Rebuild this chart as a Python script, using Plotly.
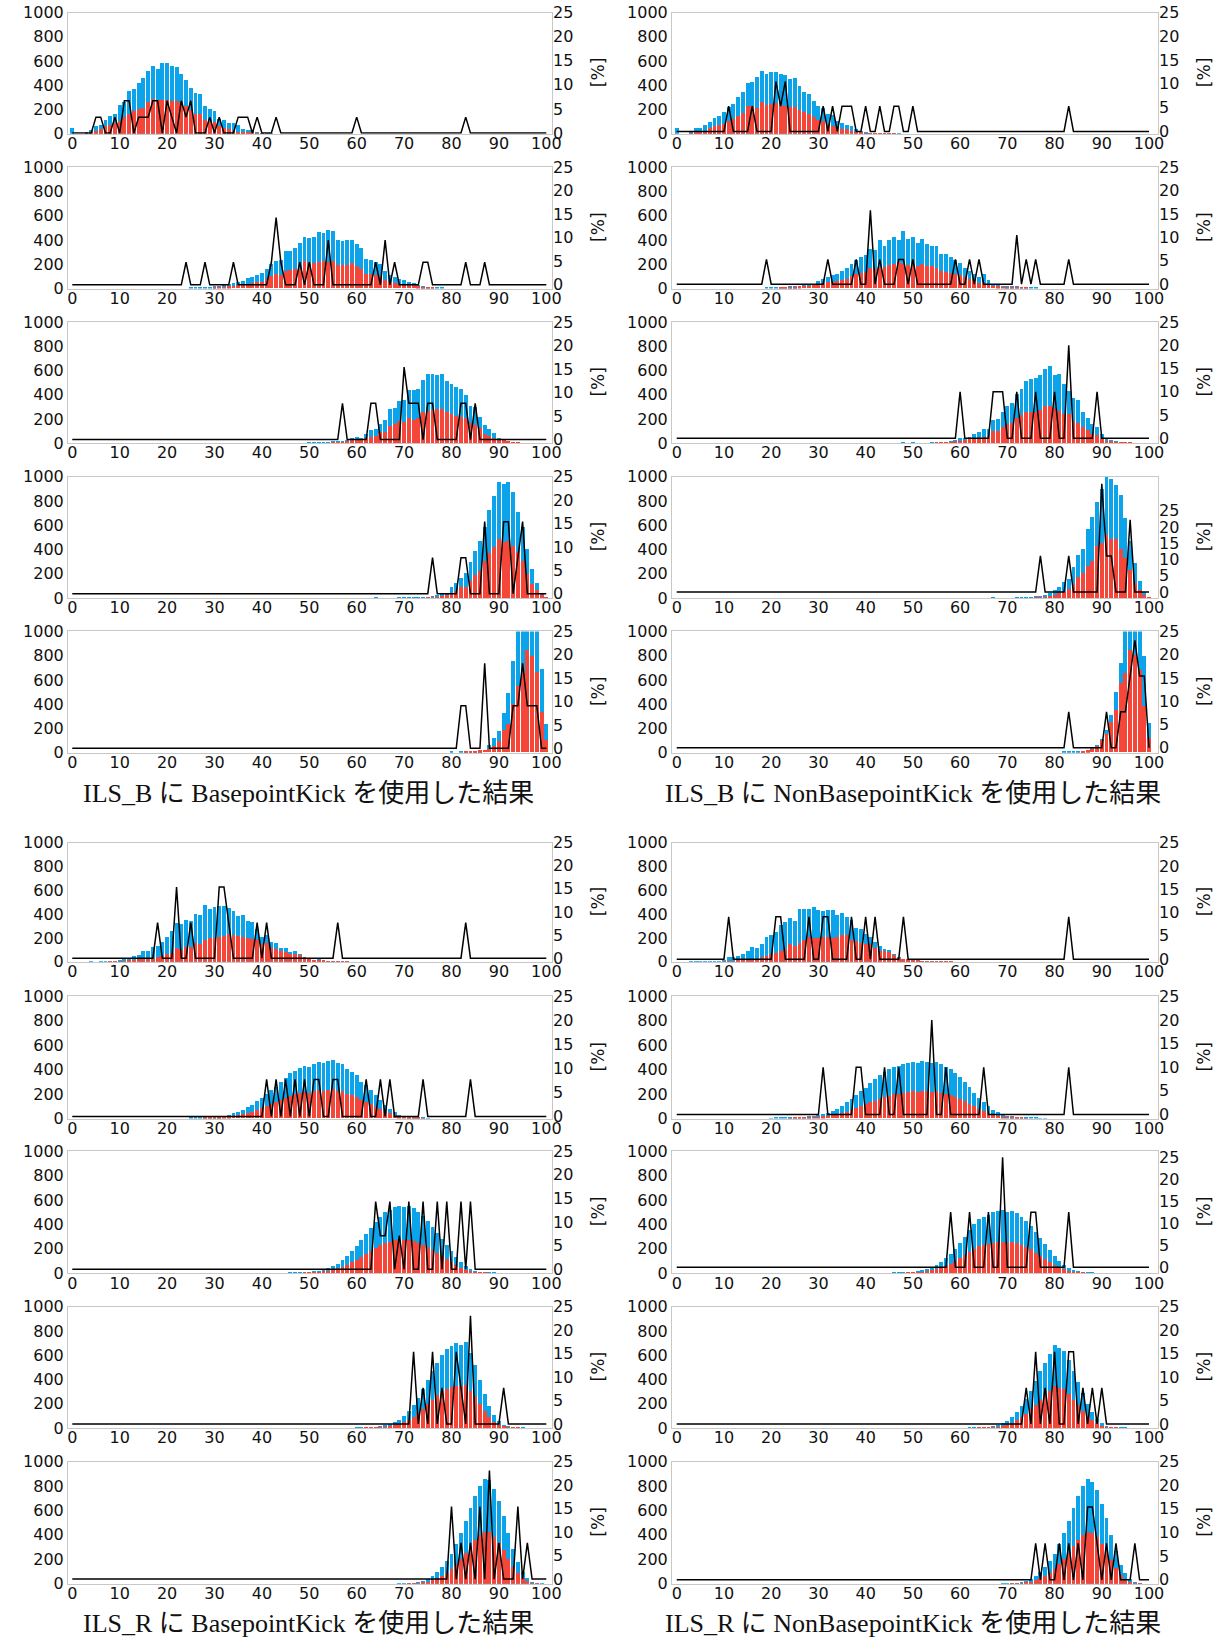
import plotly.graph_objects as go

# ---------------- data (bins 0..100) ----------------
# Group 1: ILS_B, row r, L = BasepointKick, R = NonBasepointKick
g1r1L_start = 0
g1r1L_blue = [50, 0, 0, 20, 35, 65, 80, 120, 150, 170, 240, 270, 360, 370, 420, 465, 525, 560, 535, 585, 590, 565, 555, 500, 450, 380, 340, 330, 235, 205, 195, 130, 120, 90, 90, 75, 45, 35, 35, 15, 10, 5, 3]
g1r1L_red = [0, 0, 0, 5, 15, 30, 40, 65, 75, 90, 110, 140, 170, 190, 210, 215, 270, 295, 280, 285, 280, 275, 275, 260, 230, 200, 170, 170, 120, 105, 100, 70, 50, 45, 30, 20, 20, 20, 15, 10, 5, 0, 0]
g1r1L_pct_x = [5, 6, 9, 11, 12, 14, 15, 16, 17, 18, 20, 21, 23, 24, 25, 29, 31, 35, 36, 37, 39, 43, 60, 83]
g1r1L_pct = [3.3, 3.3, 3.3, 6.7, 6.7, 3.3, 3.3, 3.3, 6.7, 6.7, 6.7, 3.3, 6.7, 3.3, 6.7, 3.3, 3.3, 3.3, 3.3, 3.3, 3.3, 3.3, 3.3, 3.3]

g1r1R_start = 0
g1r1R_blue = [50, 0, 0, 30, 55, 55, 75, 105, 135, 150, 185, 225, 250, 310, 350, 425, 430, 475, 520, 500, 515, 510, 495, 485, 460, 465, 395, 350, 330, 275, 235, 220, 170, 160, 110, 90, 80, 65, 45, 30, 20, 10, 8, 5, 5, 4, 3, 3]
g1r1R_red = [0, 0, 0, 10, 25, 25, 30, 50, 70, 80, 85, 110, 130, 155, 175, 230, 230, 215, 265, 245, 250, 255, 240, 235, 225, 225, 200, 185, 165, 145, 115, 110, 80, 70, 50, 45, 40, 30, 20, 15, 10, 5, 4, 3, 3, 3, 3, 2]
g1r1R_pct_x = [11, 16, 21, 22, 23, 31, 33, 35, 36, 37, 40, 43, 46, 47, 50, 83]
g1r1R_pct = [5.3, 5.3, 10.5, 5.3, 10.5, 5.3, 5.3, 5.3, 5.3, 5.3, 5.3, 5.3, 5.3, 5.3, 5.3, 5.3]

g1r2L_start = 25
g1r2L_blue = [5, 5, 10, 5, 8, 15, 20, 25, 35, 45, 50, 60, 85, 95, 110, 125, 160, 200, 225, 230, 305, 310, 330, 370, 420, 415, 420, 460, 455, 480, 470, 400, 390, 400, 400, 365, 335, 245, 230, 220, 200, 145, 110, 90, 75, 65, 50, 45, 30, 15, 10, 10, 8, 3]
g1r2L_red = [0, 0, 0, 0, 0, 5, 8, 10, 15, 20, 25, 30, 35, 40, 50, 55, 80, 100, 120, 110, 145, 150, 155, 160, 225, 210, 205, 220, 225, 215, 225, 195, 190, 195, 210, 185, 155, 115, 120, 105, 100, 65, 55, 40, 35, 30, 25, 25, 15, 10, 5, 3, 0, 0]
g1r2L_pct_x = [24, 28, 34, 42, 43, 44, 48, 50, 54, 64, 66, 68, 74, 75, 83, 87]
g1r2L_pct = [4.8, 4.8, 4.8, 4.8, 14.3, 4.8, 4.8, 4.8, 9.5, 4.8, 9.5, 4.8, 4.8, 4.8, 4.8, 4.8]

g1r2R_start = 19
g1r2R_blue = [3, 5, 5, 8, 10, 15, 15, 20, 30, 30, 30, 60, 75, 90, 105, 120, 145, 165, 200, 235, 260, 270, 320, 315, 400, 345, 400, 420, 395, 470, 410, 420, 375, 405, 365, 350, 345, 285, 285, 260, 230, 205, 170, 145, 120, 90, 120, 70, 35, 25, 20, 15, 15, 15, 10, 8, 5, 3]
g1r2R_red = [0, 0, 0, 3, 5, 8, 10, 15, 20, 20, 25, 30, 40, 50, 55, 60, 65, 75, 100, 120, 125, 135, 170, 160, 175, 175, 195, 200, 215, 200, 195, 190, 185, 200, 185, 180, 165, 145, 135, 125, 115, 105, 95, 75, 65, 45, 45, 35, 20, 15, 10, 8, 8, 5, 5, 3, 0, 0]
g1r2R_pct_x = [19, 32, 38, 41, 43, 47, 48, 50, 59, 62, 64, 72, 74, 76, 83]
g1r2R_pct = [5.3, 5.3, 5.3, 15.8, 5.3, 5.3, 5.3, 5.3, 5.3, 5.3, 5.3, 10.5, 5.3, 5.3, 5.3]

g1r3L_start = 50
g1r3L_blue = [3, 5, 5, 8, 10, 15, 20, 20, 25, 45, 55, 40, 80, 105, 120, 160, 195, 280, 290, 345, 360, 440, 440, 445, 525, 570, 575, 565, 570, 515, 490, 465, 450, 400, 310, 300, 220, 150, 115, 85, 40, 35, 20, 10, 5]
g1r3L_red = [0, 0, 0, 0, 0, 3, 8, 10, 15, 25, 30, 30, 40, 50, 60, 90, 90, 145, 160, 180, 175, 210, 195, 210, 255, 265, 275, 285, 285, 260, 240, 225, 215, 210, 165, 150, 125, 80, 60, 40, 30, 25, 15, 8, 3]
g1r3L_pct_x = [57, 63, 64, 70, 71, 72, 73, 75, 76, 82, 83, 85]
g1r3L_pct = [7.7, 7.7, 7.7, 15.4, 7.7, 7.7, 7.7, 7.7, 7.7, 7.7, 7.7, 7.7]

g1r3R_start = 48
g1r3R_blue = [3, 0, 3, 0, 0, 0, 5, 8, 8, 10, 15, 25, 40, 40, 55, 80, 90, 115, 115, 195, 200, 255, 310, 335, 410, 450, 510, 530, 535, 565, 610, 635, 560, 575, 485, 430, 370, 360, 255, 210, 160, 130, 75, 35, 25, 15, 10, 8, 5]
g1r3R_red = [0, 0, 0, 0, 0, 0, 0, 3, 5, 8, 10, 15, 20, 25, 35, 40, 45, 55, 60, 100, 100, 130, 155, 170, 210, 235, 255, 255, 260, 275, 305, 305, 290, 265, 245, 240, 185, 170, 130, 105, 75, 65, 35, 20, 15, 10, 5, 5, 3]
g1r3R_pct_x = [60, 67, 68, 69, 72, 76, 80, 83, 89]
g1r3R_pct = [10, 10, 10, 10, 10, 10, 10, 20, 10]

g1r4L_start = 64
g1r4L_blue = [3, 0, 0, 0, 0, 3, 3, 3, 5, 5, 8, 10, 15, 25, 35, 45, 90, 125, 165, 210, 300, 390, 475, 590, 725, 840, 955, 945, 960, 880, 715, 590, 410, 240, 125, 40, 10]
g1r4L_red = [0, 0, 0, 0, 0, 0, 0, 0, 0, 0, 0, 3, 5, 10, 15, 25, 40, 60, 90, 95, 140, 195, 225, 310, 375, 420, 490, 465, 470, 435, 380, 305, 200, 120, 65, 30, 5]
g1r4L_pct_x = [76, 82, 83, 87, 91, 92, 94, 95]
g1r4L_pct = [7.7, 7.7, 7.7, 15.4, 15.4, 15.4, 7.7, 15.4]

g1r4R_start = 67
g1r4R_blue = [3, 0, 0, 0, 0, 3, 5, 8, 10, 15, 15, 25, 40, 65, 90, 135, 160, 255, 355, 410, 575, 670, 790, 900, 1000, 985, 935, 855, 660, 470, 295, 140, 55, 10]
g1r4R_red = [0, 0, 0, 0, 0, 0, 0, 0, 0, 5, 8, 10, 20, 30, 40, 50, 75, 120, 175, 210, 270, 310, 430, 460, 520, 490, 490, 410, 335, 235, 130, 70, 30, 3]
g1r4R_pct_x = [77, 83, 90, 91, 92, 96]
g1r4R_pct = [11.1, 11.1, 33.3, 11.1, 11.1, 22.2]

g1r5L_start = 80
g1r5L_blue = [3, 0, 3, 3, 5, 10, 15, 20, 60, 120, 175, 320, 485, 750, 1200, 1200, 1200, 1200, 1200, 690, 235]
g1r5L_red = [0, 0, 0, 3, 5, 10, 15, 20, 30, 50, 90, 185, 235, 400, 545, 650, 840, 790, 660, 335, 105]
g1r5L_pct_x = [82, 83, 87, 93, 94, 95, 96, 97, 98]
g1r5L_pct = [9.1, 9.1, 18.2, 9.1, 9.1, 18.2, 9.1, 9.1, 9.1]

g1r5R_start = 82
g1r5R_blue = [3, 3, 5, 5, 10, 20, 45, 60, 110, 180, 310, 500, 740, 1200, 1200, 1200, 1200, 795, 240]
g1r5R_red = [0, 0, 0, 0, 5, 15, 25, 50, 100, 155, 250, 350, 570, 650, 840, 800, 680, 385, 115]
g1r5R_pct_x = [83, 91, 94, 95, 96, 97, 98, 99]
g1r5R_pct = [7.7, 7.7, 7.7, 7.7, 15.4, 23.1, 15.4, 15.4]

# Group 2: ILS_R
g2r1L_start = 4
g2r1L_blue = [5, 0, 5, 5, 8, 10, 15, 25, 35, 50, 60, 90, 90, 125, 140, 170, 210, 260, 330, 320, 350, 345, 405, 395, 480, 445, 460, 470, 475, 455, 430, 385, 395, 345, 335, 280, 215, 225, 170, 160, 120, 120, 85, 90, 70, 40, 30, 15, 25, 20, 10, 8, 8, 5, 3]
g2r1L_red = [0, 0, 0, 0, 3, 5, 8, 10, 15, 20, 25, 30, 30, 30, 45, 55, 65, 80, 115, 105, 130, 130, 160, 155, 190, 200, 205, 215, 220, 235, 230, 220, 215, 205, 195, 185, 150, 160, 120, 110, 90, 85, 70, 65, 60, 35, 25, 15, 20, 15, 10, 8, 8, 5, 3]
g2r1L_pct_x = [18, 22, 25, 31, 32, 33, 39, 41, 56, 83]
g2r1L_pct = [7.7, 15.4, 7.7, 15.4, 15.4, 7.7, 7.7, 7.7, 7.7, 7.7]

g2r1R_start = 3
g2r1R_blue = [5, 5, 5, 5, 5, 8, 10, 15, 40, 40, 55, 70, 95, 125, 120, 150, 210, 230, 255, 315, 340, 370, 345, 445, 450, 450, 460, 435, 430, 440, 440, 400, 415, 380, 350, 285, 280, 235, 210, 170, 135, 110, 100, 70, 45, 30, 25, 25, 15, 10, 5, 5, 5, 5, 3, 3]
g2r1R_red = [0, 0, 0, 0, 0, 0, 0, 5, 8, 10, 15, 20, 25, 30, 30, 40, 50, 65, 80, 90, 110, 155, 140, 160, 190, 215, 205, 200, 210, 215, 200, 210, 230, 225, 190, 175, 165, 155, 150, 120, 95, 95, 85, 60, 35, 30, 25, 20, 15, 10, 5, 5, 5, 5, 3, 3]
g2r1R_pct_x = [11, 21, 22, 28, 31, 32, 37, 40, 42, 48, 83]
g2r1R_pct = [9.1, 9.1, 9.1, 9.1, 9.1, 9.1, 9.1, 9.1, 9.1, 9.1, 9.1]

g2r2L_start = 25
g2r2L_blue = [3, 3, 5, 5, 8, 10, 15, 20, 30, 40, 55, 70, 90, 110, 140, 170, 200, 230, 260, 300, 330, 370, 390, 410, 430, 420, 440, 460, 450, 470, 480, 450, 440, 400, 380, 350, 300, 270, 230, 190, 150, 110, 80, 50, 30, 20, 10, 8, 5, 3, 2]
g2r2L_red = [0, 0, 0, 3, 4, 5, 8, 10, 15, 20, 25, 35, 45, 55, 70, 85, 100, 115, 130, 150, 165, 185, 195, 205, 215, 210, 220, 230, 225, 235, 240, 225, 220, 200, 190, 175, 150, 135, 115, 95, 75, 55, 40, 25, 15, 10, 5, 4, 3, 2, 0]
g2r2L_pct_x = [41, 43, 45, 47, 49, 51, 52, 55, 56, 62, 65, 67, 74, 84]
g2r2L_pct = [7.7, 7.7, 7.7, 7.7, 7.7, 7.7, 7.7, 7.7, 7.7, 7.7, 7.7, 7.7, 7.7, 7.7]

g2r2R_start = 20
g2r2R_blue = [2, 3, 3, 5, 5, 8, 10, 12, 15, 20, 25, 35, 45, 60, 80, 100, 130, 160, 190, 220, 250, 290, 320, 350, 380, 400, 420, 430, 440, 450, 460, 450, 470, 460, 450, 460, 440, 420, 400, 370, 340, 300, 260, 210, 170, 130, 100, 70, 50, 30, 20, 15, 10, 8, 5, 4, 3, 2, 2]
g2r2R_red = [0, 0, 0, 0, 2, 3, 4, 5, 6, 8, 10, 15, 20, 25, 35, 45, 55, 70, 85, 100, 115, 130, 145, 160, 175, 185, 195, 200, 210, 215, 220, 215, 225, 220, 215, 225, 210, 200, 190, 175, 160, 140, 120, 100, 80, 60, 45, 30, 20, 12, 8, 6, 4, 3, 2, 0, 0, 0, 0]
g2r2R_pct_x = [31, 38, 39, 44, 47, 54, 57, 65, 83]
g2r2R_pct = [10, 10, 10, 10, 10, 20, 10, 10, 10]

g2r3L_start = 45
g2r3L_blue = [2, 3, 4, 5, 8, 10, 15, 20, 30, 45, 60, 80, 110, 140, 180, 220, 270, 320, 370, 420, 460, 500, 520, 540, 550, 545, 550, 530, 500, 470, 430, 380, 330, 280, 230, 180, 130, 90, 60, 35, 20, 12, 8, 5, 3, 2]
g2r3L_red = [0, 0, 0, 2, 4, 5, 8, 10, 15, 20, 30, 40, 55, 70, 90, 110, 135, 160, 185, 210, 230, 250, 260, 270, 275, 270, 275, 265, 250, 235, 215, 190, 165, 140, 115, 90, 65, 45, 30, 18, 10, 6, 4, 2, 0, 0]
g2r3L_pct_x = [64, 65, 66, 67, 69, 71, 74, 77, 79, 82, 84]
g2r3L_pct = [14.3, 7.1, 7.1, 14.3, 7.1, 14.3, 14.3, 14.3, 14.3, 14.3, 14.3]

g2r3R_start = 45
g2r3R_blue = [2, 3, 4, 5, 8, 12, 18, 25, 35, 50, 70, 95, 125, 160, 200, 250, 300, 350, 400, 440, 460, 480, 500, 510, 520, 500, 510, 490, 460, 430, 390, 340, 290, 240, 190, 140, 100, 70, 45, 25, 15, 8, 5, 3, 2]
g2r3R_red = [0, 0, 0, 2, 4, 6, 9, 12, 17, 25, 35, 48, 62, 80, 100, 125, 150, 175, 200, 220, 230, 240, 250, 255, 260, 250, 255, 245, 230, 215, 195, 170, 145, 120, 95, 70, 50, 35, 22, 12, 7, 4, 2, 0, 0]
g2r3R_pct_x = [58, 62, 66, 69, 75, 76, 83]
g2r3R_pct = [12.5, 12.5, 12.5, 25, 12.5, 12.5, 12.5]

g2r4L_start = 60
g2r4L_blue = [2, 3, 5, 8, 12, 18, 25, 35, 50, 70, 100, 140, 190, 250, 320, 400, 470, 540, 600, 650, 680, 700, 690, 710, 620, 520, 400, 280, 180, 110, 60, 30, 15, 8, 4, 2]
g2r4L_red = [0, 0, 2, 4, 6, 9, 12, 17, 25, 35, 50, 70, 95, 125, 160, 200, 235, 270, 300, 325, 340, 350, 345, 355, 310, 260, 200, 140, 90, 55, 30, 15, 8, 4, 2, 0]
g2r4L_pct_x = [72, 74, 76, 78, 81, 82, 84, 91]
g2r4L_pct = [15.4, 7.7, 15.4, 7.7, 15.4, 7.7, 23.1, 7.7]

g2r4R_start = 62
g2r4R_blue = [2, 3, 5, 8, 12, 18, 25, 40, 60, 90, 130, 180, 240, 310, 390, 470, 540, 610, 690, 660, 640, 560, 470, 380, 290, 200, 130, 80, 45, 20, 10, 5, 3, 2]
g2r4R_red = [0, 0, 2, 4, 6, 9, 12, 20, 30, 45, 65, 90, 120, 155, 195, 235, 270, 305, 345, 330, 320, 280, 235, 190, 145, 100, 65, 40, 22, 10, 5, 2, 0, 0]
g2r4R_pct_x = [74, 76, 78, 80, 83, 84, 86, 88, 90]
g2r4R_pct = [7.7, 15.4, 7.7, 15.4, 15.4, 15.4, 7.7, 7.7, 7.7]

g2r5L_start = 68
g2r5L_blue = [2, 3, 5, 8, 12, 20, 30, 45, 70, 100, 140, 190, 250, 330, 420, 520, 620, 720, 800, 860, 850, 780, 680, 560, 420, 290, 180, 100, 50, 20, 8, 3, 0]
g2r5L_red = [0, 0, 2, 4, 6, 10, 15, 22, 35, 50, 70, 95, 125, 165, 210, 260, 310, 360, 400, 430, 425, 390, 340, 280, 210, 145, 90, 50, 25, 10, 4, 0, 0]
g2r5L_pct_x = [80, 82, 84, 86, 88, 90, 94, 96]
g2r5L_pct = [15.4, 7.7, 7.7, 15.4, 23.1, 7.7, 15.4, 7.7]

g2r5R_start = 68
g2r5R_blue = [2, 3, 5, 8, 12, 20, 30, 45, 70, 100, 140, 190, 250, 330, 420, 520, 620, 720, 800, 860, 840, 770, 660, 540, 400, 270, 160, 90, 40, 15, 5, 2, 0]
g2r5R_red = [0, 0, 2, 4, 6, 10, 15, 22, 35, 50, 70, 95, 125, 165, 210, 260, 310, 360, 400, 430, 420, 385, 330, 270, 200, 135, 80, 45, 20, 8, 3, 0, 0]
g2r5R_pct_x = [76, 78, 81, 83, 85, 87, 88, 89, 91, 93, 97]
g2r5R_pct = [7.7, 7.7, 7.7, 7.7, 7.7, 15.4, 15.4, 7.7, 7.7, 7.7, 7.7]

x_ticks = [0, 10, 20, 30, 40, 50, 60, 70, 80, 90, 100]
count_ticks = [0, 200, 400, 600, 800, 1000]
pct_ticks = [0, 5, 10, 15, 20, 25]
captions = ["ILS_B に BasepointKick を使用した結果", "ILS_B に NonBasepointKick を使用した結果",
            "ILS_R に BasepointKick を使用した結果", "ILS_R に NonBasepointKick を使用した結果"]

# ---------------- layout constants ----------------
W, H = 1222, 1639
BLUE = "#0ba3ea"
RED = "#f4473a"
AXC = "#c8c8c8"
TICKFONT = dict(family="DejaVu Sans", size=16, color="#111111")


def fx(px):
    return px / W


def fy(py):
    return 1 - py / H


COLS = [(68, 552, -0.9, 101.2), (672, 1158, -1.0, 101.9)]
ROWS = [(12.5, 133.8), (167.3, 288.5), (322.0, 443.2), (476.7, 598.0), (631.4, 752.7),
        (842.6, 961.8), (996.3, 1118.6), (1151.0, 1273.3), (1306.8, 1428.0), (1461.5, 1583.8)]

G = globals()
panels = []
for g in (1, 2):
    for r in range(1, 6):
        for side in ("L", "R"):
            n = f"g{g}r{r}{side}"
            panels.append((n, G[n + "_start"], G[n + "_blue"], G[n + "_red"], G[n + "_pct_x"], G[n + "_pct"]))

right_ranges = {
    "g1r1L": (-0.15, 25), "g1r1R": (-0.5, 25), "g1r2L": (-0.78, 25), "g1r2R": (-0.92, 25),
    "g1r3L": (-0.78, 25), "g1r3R": (-1.07, 25), "g1r4L": (-0.92, 25), "g1r4R": (-1.84, 35.5),
    "g1r5L": (-0.93, 25), "g1r5R": (-1.08, 25),
    "g2r1L": (-0.78, 25), "g2r1R": (-0.56, 25), "g2r2L": (-0.45, 25), "g2r2R": (-0.86, 25),
    "g2r3L": (-0.86, 25), "g2r3R": (-1.4, 26.4), "g2r4L": (-0.86, 25), "g2r4R": (-0.86, 25),
    "g2r5L": (-1.0, 25), "g2r5R": (-0.85, 25),
}

fig = go.Figure()
layout = dict(width=W, height=H, margin=dict(l=0, r=0, t=0, b=0, pad=0, autoexpand=False),
              paper_bgcolor="white", plot_bgcolor="white", barmode="overlay",
              showlegend=False, bargap=0, template="none")
annotations = []

for k, (name, start, blue, red, px, pv) in enumerate(panels, start=1):
    g = int(name[1]); r = int(name[3]); side = name[4]
    col = 0 if side == "L" else 1
    row = (g - 1) * 5 + (r - 1)
    x0, x1, xr0, xr1 = COLS[col]
    top, bot = ROWS[row]
    xid = "x" if k == 1 else f"x{k}"
    yl = 2 * k - 1
    yr = 2 * k
    ylid = "y" if yl == 1 else f"y{yl}"
    yrid = f"y{yr}"
    xs = list(range(start, start + len(blue)))
    fig.add_trace(go.Bar(x=xs, y=blue, width=0.82, marker=dict(color=BLUE, line=dict(width=0)),
                         xaxis=xid, yaxis=ylid))
    fig.add_trace(go.Bar(x=xs, y=red, width=0.82, marker=dict(color=RED, line=dict(width=0)),
                         xaxis=xid, yaxis=ylid))
    d = dict(zip(px, pv))
    lx = list(range(0, 101))
    ly = [d.get(i, 0) for i in lx]
    fig.add_trace(go.Scatter(x=lx, y=ly, mode="lines", line=dict(color="black", width=1.5),
                             xaxis=xid, yaxis=yrid))

    xkey = "xaxis" if k == 1 else f"xaxis{k}"
    ylkey = "yaxis" if yl == 1 else f"yaxis{yl}"
    yrkey = f"yaxis{yr}"
    layout[xkey] = dict(domain=[fx(x0), fx(x1)], anchor=ylid, range=[xr0, xr1], automargin=False,
                        tickmode="array", tickvals=x_ticks, ticks="", showgrid=False,
                        zeroline=False, showline=True, linecolor=AXC, linewidth=1, mirror=True,
                        tickfont=TICKFONT, ticklabelstandoff=-5, ticklabeloverflow="allow")
    layout[ylkey] = dict(domain=[fy(bot), fy(top)], anchor=xid, range=[0, 1000],
                         automargin=False, ticklabeloverflow="allow",
                         tickmode="array", tickvals=count_ticks, ticks="", showgrid=False,
                         zeroline=False, showline=True, linecolor=AXC, linewidth=1, mirror=True,
                         tickfont=TICKFONT)
    rr = right_ranges[name]
    layout[yrkey] = dict(domain=[fy(bot), fy(top)], anchor=xid, overlaying=ylid,
                         side="right", range=list(rr), tickmode="array", tickvals=pct_ticks,
                         automargin=False, ticklabeloverflow="allow",
                         ticks="", showgrid=False, zeroline=False, showline=False,
                         tickfont=TICKFONT)
    annotations.append(dict(text="[%]", x=fx(x1 + 46), y=fy((top + bot) / 2),
                            xref="paper", yref="paper", showarrow=False, textangle=-90,
                            font=dict(family="DejaVu Sans", size=17, color="#111111"),
                            xanchor="center", yanchor="middle"))

cap_pos = [(308, 793.5), (913, 793.5), (308, 1623.0), (913, 1623.0)]
for txt, (cx, cy) in zip(captions, cap_pos):
    annotations.append(dict(text=txt, x=fx(cx), y=fy(cy), xref="paper", yref="paper",
                            showarrow=False, xanchor="center", yanchor="middle",
                            font=dict(family="Liberation Serif, Noto Sans CJK JP", size=26,
                                      color="#111111")))

layout["annotations"] = annotations
fig.update_layout(**layout)
# remove the default 8px page margin so the figure sits at the window origin
fig.write_html("out.html", config={"displayModeBar": False},
               post_script="document.body.style.margin='0px';")
